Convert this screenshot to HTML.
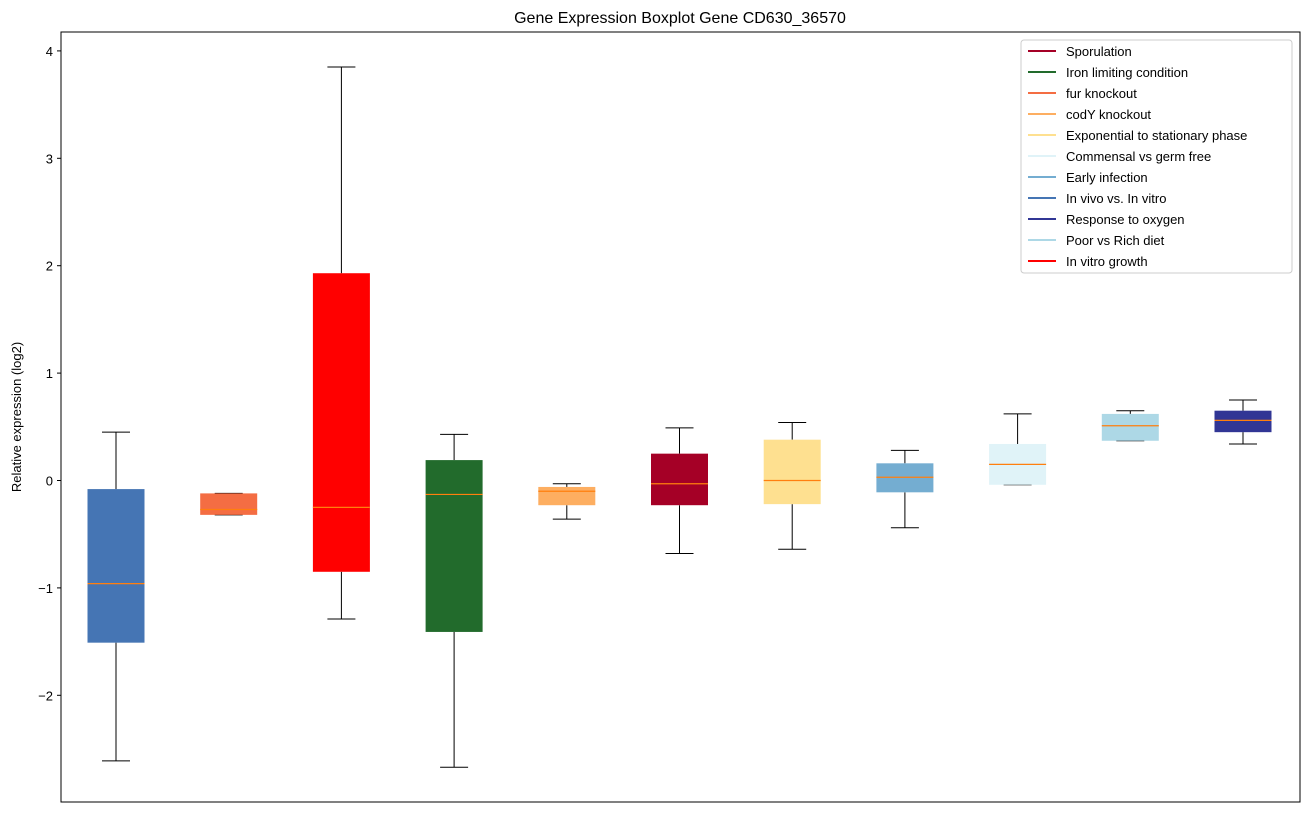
<!DOCTYPE html>
<html><head><meta charset="utf-8"><style>
body{margin:0;background:#fff;}
svg{font-family:"Liberation Sans","DejaVu Sans",sans-serif;}
</style></head><body>
<svg id="chart" width="1309" height="812"></svg>
<script>
const categories=["In vivo vs. In vitro","fur knockout","In vitro growth","Iron limiting condition","codY knockout","Sporulation","Exponential to stationary phase","Early infection","Commensal vs germ free","Poor vs Rich diet","Response to oxygen"];
const whiskerHigh=[0.45,-0.12,3.85,0.43,-0.03,0.49,0.54,0.28,0.62,0.65,0.75];
const q3Values=[-0.08,-0.12,1.93,0.19,-0.06,0.25,0.38,0.16,0.34,0.62,0.65];
const medians=[-0.96,-0.27,-0.25,-0.13,-0.10,-0.03,0.0,0.03,0.15,0.51,0.56];
const q1Values=[-1.51,-0.32,-0.85,-1.41,-0.23,-0.23,-0.22,-0.11,-0.04,0.37,0.45];
const whiskerLow=[-2.61,-0.32,-1.29,-2.67,-0.36,-0.68,-0.64,-0.44,-0.04,0.37,0.34];
const boxColors=["#4575b4","#f46d43","#ff0000","#226b2c","#fdae61","#a50026","#fee090","#74add1","#e0f3f8","#add8e6","#313695"];
const yTicks=[4,3,2,1,0,-1,-2];
const yTickLabels=["4","3","2","1","0","\u22121","\u22122"];
const legendLabels=["Sporulation","Iron limiting condition","fur knockout","codY knockout","Exponential to stationary phase","Commensal vs germ free","Early infection","In vivo vs. In vitro","Response to oxygen","Poor vs Rich diet","In vitro growth"];
const legendColors=["#a50026","#226b2c","#f46d43","#fdae61","#fee090","#e0f3f8","#74add1","#4575b4","#313695","#add8e6","#ff0000"];

const svg=document.getElementById('chart');
const NS="http://www.w3.org/2000/svg";
const L=61,R=1300,T=32,B=802;
const y=v=>480.5-v*107.4;
const x=i=>116+i*112.7;
function mk(tag,attrs,parent){const e=document.createElementNS(NS,tag);for(const k in attrs)e.setAttribute(k,attrs[k]);(parent||svg).appendChild(e);return e;}

const title=mk('text',{x:680,y:23,'text-anchor':'middle','font-size':16,fill:'#000'});
title.textContent="Gene Expression Boxplot Gene CD630_36570";



const yl=mk('text',{x:21,y:417,'text-anchor':'middle','font-size':13,transform:'rotate(-90 21 417)'});
yl.textContent="Relative expression (log2)";



yTicks.forEach((t,i)=>{
  const g=mk('g',{});
  
  
  mk('line',{x1:L-4,x2:L,y1:y(t),y2:y(t),stroke:'#000','stroke-width':1},g);
  const tx=mk('text',{x:L-8,y:y(t)+5,'text-anchor':'end','font-size':13},g);
  tx.textContent=yTickLabels[i];
});

categories.forEach((c,i)=>{
  const g=mk('g',{});
  
  
  const cx=x(i),hw=28.5,cw=14;
  mk('line',{x1:cx,x2:cx,y1:y(whiskerHigh[i]),y2:y(q3Values[i]),stroke:'#000','stroke-width':1},g);
  mk('line',{x1:cx,x2:cx,y1:y(q1Values[i]),y2:y(whiskerLow[i]),stroke:'#000','stroke-width':1},g);
  mk('line',{x1:cx-cw,x2:cx+cw,y1:y(whiskerHigh[i]),y2:y(whiskerHigh[i]),stroke:'#000','stroke-width':1},g);
  mk('line',{x1:cx-cw,x2:cx+cw,y1:y(whiskerLow[i]),y2:y(whiskerLow[i]),stroke:'#000','stroke-width':1},g);
  mk('rect',{x:cx-hw,y:y(q3Values[i]),width:2*hw,height:Math.max(1,y(q1Values[i])-y(q3Values[i])),fill:boxColors[i]},g);
  mk('line',{x1:cx-hw,x2:cx+hw,y1:y(medians[i]),y2:y(medians[i]),stroke:'#ff7f0e','stroke-width':1.2},g);
});

const frame=mk('rect',{x:L,y:T,width:R-L,height:B-T,fill:'none',stroke:'#000','stroke-width':1});



const lg=mk('g',{});


mk('rect',{x:1021,y:40,width:271,height:233,rx:3,fill:'#fff','fill-opacity':0.8,stroke:'#ccc'},lg);
legendLabels.forEach((l,i)=>{
  const e=mk('g',{},lg);
  
  
  const yy=51+i*21;
  mk('line',{x1:1028,x2:1056,y1:yy,y2:yy,stroke:legendColors[i],'stroke-width':2},e);
  const t=mk('text',{x:1066,y:yy+5,'font-size':13},e);
  t.textContent=l;
});
</script>
</body></html>
